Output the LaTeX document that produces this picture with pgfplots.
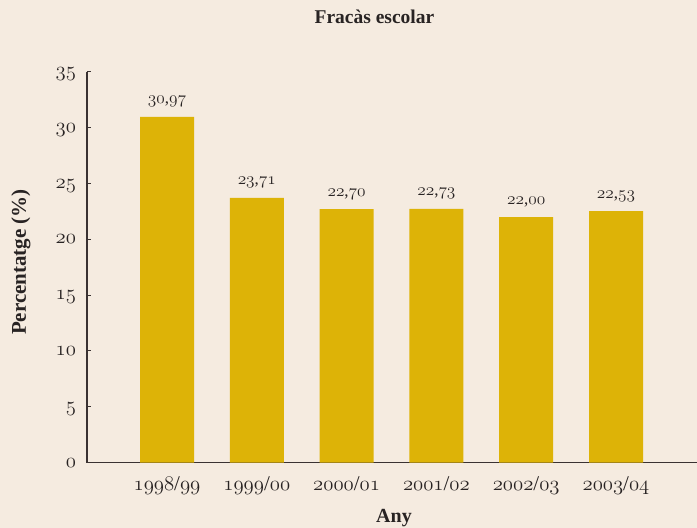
\documentclass[border=0pt]{standalone}
\usepackage{fontspec}
\setmainfont{Liberation Serif}
\usepackage{pgfplots}
\pgfplotsset{compat=1.18}
\definecolor{bgc}{RGB}{245,235,224}
\definecolor{barc}{RGB}{221,179,7}
\definecolor{axc}{RGB}{58,50,50}
\definecolor{txc}{RGB}{40,35,35}
\protected\def\osf#1{{\usefont{OML}{cmm}{m}{it}#1}}
\protected\def\lab#1#2{\osf{#1},\osf{#2}}
\protected\def\yr#1#2{\osf{#1}/\osf{#2}}
\begin{document}
\begin{tikzpicture}
\fill[bgc] (0,0) rectangle (697pt,528pt);
\begin{axis}[
  at={(87pt,65.5pt)}, anchor=south west,
  scale only axis, width=610pt, height=390.5pt,
  xmin=-0.891, xmax=5.902, ymin=0, ymax=35,
  axis x line=bottom, axis y line=left,
  axis line style={-, draw=axc, line width=1.2pt},
  ybar, bar width=54pt, bar shift=0pt,
  xtick={0,1,2,3,4,5},
  xticklabels={\yr{1998}{99},\yr{1999}{00},\yr{2000}{01},\yr{2001}{02},\yr{2002}{03},\yr{2003}{04}},
  xtick style={draw=none},
  ytick={0,5,10,15,20,25,30,35},
  yticklabels={\osf{0},\osf{5},\osf{10},\osf{15},\osf{20},\osf{25},\osf{30},\osf{35}},
  ytick align=inside, major tick length=4pt,
  ytick style={draw=axc, line width=1pt},
  xticklabel style={font=\fontsize{21}{21}\selectfont, text=txc, anchor=base, inner sep=0pt, outer sep=0pt, yshift=-24pt},
  yticklabel style={font=\fontsize{21}{21}\selectfont, text=txc, anchor=base east, inner sep=0pt, outer sep=0pt, xshift=-11pt, yshift=-4.5pt},
  title={Fracàs escolar},
  title style={at={(rel axis cs:0.4713,1.110)}, anchor=base, font=\bfseries\fontsize{19.5}{20}\selectfont, text=txc, inner sep=0pt},
  xlabel={Any},
  xlabel style={at={(rel axis cs:0.5033,-0.1542)}, anchor=base, font=\bfseries\fontsize{20}{20}\selectfont, text=txc, inner sep=0pt},
  ylabel={Percentatge (\%)},
  ylabel style={at={(rel axis cs:-0.1,0.5134)}, anchor=base, rotate=0, font=\bfseries\fontsize{21}{21}\selectfont, text=txc, inner sep=0pt},
  point meta=explicit symbolic,
  nodes near coords,
  every node near coord/.append style={font=\fontsize{17}{17}\selectfont, text=txc, anchor=base, inner sep=0pt, outer sep=0pt, yshift=13pt},
]
\addplot[fill=barc, draw=none] coordinates {
  (0,30.97) [\lab{30}{97}]
  (1,23.71) [\lab{23}{71}]
  (2,22.70) [\lab{22}{70}]
  (3,22.73) [\lab{22}{73}]
  (4,22.00) [\lab{22}{00}]
  (5,22.53) [\lab{22}{53}]
};
\end{axis}
\pgfresetboundingbox
\useasboundingbox (0,0) rectangle (697pt,528pt);
\end{tikzpicture}
\end{document}
